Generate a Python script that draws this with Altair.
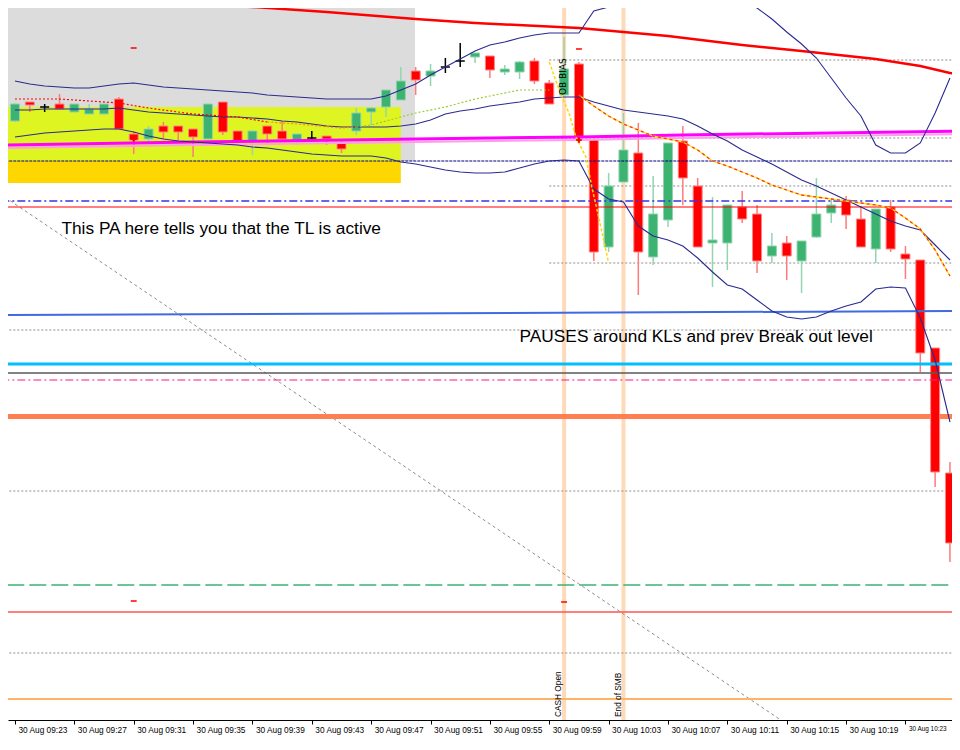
import altair as alt
import pandas as pd

# ---------------- data ----------------
# candle index: 0 = 30 Aug 09:23, one candle per minute
candle_idx = list(range(64))
opens = [12879, 12898, 12893, 12896, 12888, 12886, 12886, 12901, 12866, 12861,
         12874, 12874, 12871, 12861, 12898, 12869, 12859, 12874, 12869, 12860,
         12862, 12864, 12857, 12869, 12888, 12893, 12900, 12929, 12924, 12933,
         12939, 12943, 12944, 12928, 12928, 12939, 12917, 12905, 12936, 12860,
         12753, 12818, 12847, 12743, 12780, 12859, 12814, 12757, 12757, 12793,
         12786, 12744, 12757, 12739, 12763, 12787, 12800, 12781, 12751, 12793,
         12746, 12740, 12652, 12527]
highs = [12897, 12898, 12896, 12906, 12896, 12896, 12896, 12903, 12869, 12874,
         12878, 12874, 12871, 12896, 12898, 12869, 12869, 12874, 12879, 12866,
         12869, 12864, 12859, 12892, 12893, 12910, 12933, 12933, 12936, 12942,
         12957, 12947, 12944, 12935, 12939, 12942, 12920, 12963, 12938, 12860,
         12827, 12887, 12877, 12824, 12857, 12874, 12822, 12803, 12795, 12809,
         12795, 12767, 12764, 12759, 12822, 12802, 12804, 12794, 12791, 12800,
         12754, 12740, 12652, 12538]
lows = [12878, 12888, 12888, 12891, 12888, 12886, 12886, 12871, 12846, 12857,
        12861, 12859, 12843, 12861, 12865, 12859, 12845, 12855, 12861, 12855,
        12861, 12855, 12847, 12865, 12875, 12883, 12900, 12905, 12914, 12927,
        12933, 12937, 12922, 12925, 12921, 12916, 12896, 12905, 12863, 12739,
        12748, 12818, 12705, 12735, 12773, 12795, 12753, 12713, 12730, 12777,
        12727, 12737, 12720, 12707, 12762, 12777, 12771, 12753, 12737, 12748,
        12721, 12628, 12513, 12438]
closes = [12896, 12895, 12893, 12891, 12896, 12891, 12896, 12871, 12860, 12871,
          12868, 12868, 12863, 12896, 12868, 12859, 12869, 12866, 12861, 12866,
          12862, 12861, 12851, 12887, 12892, 12910, 12919, 12920, 12929, 12933,
          12939, 12947, 12930, 12931, 12938, 12919, 12896, 12931, 12863, 12748,
          12814, 12850, 12748, 12786, 12857, 12822, 12753, 12760, 12795, 12781,
          12739, 12754, 12744, 12759, 12786, 12795, 12785, 12753, 12791, 12751,
          12741, 12647, 12528, 12457]

# Bollinger bands, one value per candle
bb_upper = [12919, 12916, 12914, 12913, 12912, 12912, 12914, 12916, 12917, 12915,
            12913, 12912, 12911, 12910, 12909, 12908, 12907, 12905, 12904, 12903,
            12902, 12901, 12901, 12901, 12901, 12904, 12910, 12916, 12925, 12933,
            12941, 12949, 12955, 12958, 12962, 12965, 12967, 12967, 12967, 12989,
            12993, 12997, 13010, 13025, 13035, 13040, 13040, 13035, 13020, 13000,
            12992, 12981, 12968, 12956, 12942, 12922, 12902, 12884, 12855, 12847,
            12847, 12857, 12887, 12922]
bb_mid = [12890, 12890, 12891, 12891, 12891, 12891, 12891, 12892, 12890, 12888,
          12887, 12886, 12885, 12884, 12883, 12883, 12882, 12881, 12879, 12878,
          12876, 12874, 12873, 12873, 12873, 12873, 12874, 12876, 12880, 12886,
          12889, 12891, 12894, 12896, 12898, 12901, 12902, 12903, 12903, 12898,
          12894, 12890, 12888, 12886, 12884, 12881, 12874, 12866, 12859, 12850,
          12843, 12836, 12828, 12820, 12814, 12807, 12800, 12793, 12786, 12779,
          12774, 12770, 12755, 12740]
bb_lower = [12863, 12865, 12867, 12868, 12869, 12870, 12871, 12871, 12868, 12864,
            12861, 12859, 12858, 12857, 12856, 12855, 12853, 12852, 12850, 12848,
            12846, 12845, 12844, 12844, 12844, 12842, 12838, 12836, 12833, 12830,
            12828, 12827, 12827, 12828, 12832, 12836, 12839, 12840, 12839, 12811,
            12801, 12798, 12774, 12764, 12760, 12754, 12742, 12728, 12715, 12711,
            12700, 12689, 12683, 12681, 12683, 12689, 12694, 12698, 12711, 12713,
            12712, 12682, 12640, 12578]

# fast moving average (colour changes along the way)
fast_ma_idx = [0, 3, 7, 9, 12, 15, 17, 19, 22, 23, 24, 25, 27, 29, 31, 32, 34, 36]
fast_ma_val = [12901, 12901, 12897, 12892, 12886, 12883, 12878, 12876, 12872, 12873,
               12875, 12879, 12887, 12893, 12901, 12904, 12910, 12910]
# steep yellow dotted line after the open
steep_idx = [36, 36.67, 37.33, 37.8, 38.47, 38.87, 39.33, 40]
steep_val = [12938, 12910, 12887, 12863, 12843, 12813, 12783, 12737]
# red / yellow dashed average after the open
slow_idx = list(range(38, 64))
slow_val = [12905, 12894, 12884, 12876, 12870, 12864, 12861, 12858, 12850, 12839,
            12834, 12828, 12822, 12815, 12810, 12805, 12803, 12801, 12799, 12797,
            12795, 12792, 12782, 12771, 12750, 12724]
# long red moving average
red_ma_idx = [6, 11, 16, 21, 27, 31, 38, 44, 49, 53, 58, 61, 63, 64]
red_ma_val = [13002, 12997, 12993, 12988, 12981, 12977, 12972, 12964, 12955, 12949,
              12941, 12934, 12927, 12925]
# magenta level
magenta_idx = [-1, 12, 27, 38, 45, 64]
magenta_val = [12855, 12858, 12861, 12863, 12865, 12869]
# trend line (grey dashed diagonal)
trend_idx = [-1, 54]
trend_val = [12806, 12256]

# horizontal levels
lvl_navy = 12839
lvl_blue_dashdot = 12799
lvl_red_thin = 12793
lvl_royal = [12685, 12689]
lvl_sky = 12636
lvl_darkgray = 12627
lvl_pink_dashdot = 12620
lvl_coral = 12583.5
lvl_green_dash = 12415
lvl_red_low = 12388
lvl_orange = 12301
dotted_full = [12670, 12509, 12347]
dotted_after_open = [12940, 12862, 12814, 12737]

# zones: (start idx, end idx, top price, bottom price)
zone_gray = (-2, 26.95, 13010, 12839)
zone_yellow = (-2, 26.0, 12893, 12839)
zone_gold = (-2, 26.0, 12839, 12817)

# vertical session lines
session_idx = [37, 41]
session_labels = ["CASH Open", "End of SMB"]
session_label_idx = [36.77, 40.83]

# small markers
hl_marks_idx = [8, 38, 8, 37]
hl_marks_val = [12952, 12951, 12399, 12398]
signal_idx = [8, 38]
signal_val = [12861, 12860]

notes = ["This PA here tells you that the TL is active",
         "PAUSES around KLs and prev Break out level"]
notes_idx = [3.13, 34.0]
notes_val = [12766, 12658.5]

bias_label = "OB BIAS"
bias_idx = 37.13
bias_val = 12905

tick_values = list(range(0, 61, 4))

# ---------------- scales / axis ----------------
xs = alt.Scale(domain=[-2 / 15, 942 / 15], nice=False, zero=False)
ys = alt.Scale(domain=[12280, 12992], nice=False, zero=False)

x_axis = alt.Axis(
    values=tick_values,
    labelExpr="timeFormat(datetime(2023, 7, 30, 9, 23 + datum.value), '%d %b %H:%M')",
    labelAlign="left", labelOffset=3, labelPadding=1, tickSize=4,
    labelFont="Liberation Sans",
    labelFontSize={"condition": {"test": "datum.value >= 60", "value": 6.4}, "value": 8.3},
    labelColor="#000000",
    domainColor="#000000", tickColor="#000000", grid=False, title=None,
    labelOverlap=False, labelFlush=False,
)


def X(f="m"):
    return alt.X(f"{f}:Q", scale=xs, axis=x_axis)


def Y(f="p"):
    return alt.Y(f"{f}:Q", scale=ys, axis=None)


def line(idx, vals, color, width, dash=None, opacity=1.0):
    df = pd.DataFrame({"m": idx, "p": vals})
    kw = dict(color=color, strokeWidth=width, clip=True, opacity=opacity)
    if dash:
        kw["strokeDash"] = dash
    return alt.Chart(df).mark_line(**kw).encode(x=X(), y=Y(), order="m:Q")


def hline(price, color, width, dash=None, m0=-2, m1=65):
    return line([m0, m1], [price, price], color, width, dash)


def zone(z, color):
    df = pd.DataFrame({"m": [z[0]], "m1": [z[1]], "p": [z[2]], "p1": [z[3]]})
    return alt.Chart(df).mark_rect(color=color, clip=True).encode(
        x=X(), x2="m1:Q", y=Y(), y2="p1:Q")


# candles
cdf = pd.DataFrame({"m": candle_idx, "o": opens, "h": highs, "l": lows, "c": closes})


def col(r):
    if r.c > r.o:
        return "#3CB371"
    if r.c < r.o:
        return "#FF0000"
    return "#000000"


cdf["fillc"] = cdf.apply(col, axis=1)
cdf["edge"] = cdf["fillc"].map({"#3CB371": "#8FD4AE", "#FF0000": "#FF8585", "#000000": "#000000"})
cdf["wick"] = cdf["fillc"].map({"#3CB371": "#92D5B0", "#FF0000": "#FF7A7A", "#000000": "#000000"})

wicks = alt.Chart(cdf).mark_rule(strokeWidth=1.5, clip=True).encode(
    x=X(), y=Y("l"), y2="h:Q", color=alt.Color("wick:N", scale=None))
bodies = alt.Chart(cdf).mark_bar(size=9, strokeWidth=1, clip=True).encode(
    x=X(), y=Y("o"), y2="c:Q",
    fill=alt.Fill("fillc:N", scale=None), stroke=alt.Stroke("edge:N", scale=None))

# bands
bdf = pd.DataFrame({"m": candle_idx, "u": bb_upper, "mid": bb_mid, "lo": bb_lower})
band_layers = [
    alt.Chart(bdf).mark_line(color="#2A2A90", strokeWidth=1.1, clip=True).encode(x=X(), y=Y(f))
    for f in ["u", "mid", "lo"]
]

# fast MA split into colour segments
fa = pd.DataFrame({"m": fast_ma_idx, "p": fast_ma_val})
fa_red = fa[fa.m <= 17]
fa_orange = fa[(fa.m >= 17) & (fa.m <= 23)]
fa_green = fa[fa.m >= 23]

# session lines
sdf = pd.DataFrame({"m": session_idx})
session_lines = alt.Chart(sdf).mark_rule(color="#FFDAB9", strokeWidth=4).encode(x=X())
sldf = pd.DataFrame({"m": session_label_idx, "p": [12283, 12283], "t": session_labels})
session_text = alt.Chart(sldf).mark_text(
    angle=270, align="left", baseline="alphabetic", font="Liberation Sans",
    fontSize=8.3, color="#000000").encode(x=X(), y=Y(), text="t:N")

bias_text = alt.Chart(pd.DataFrame({"m": [bias_idx], "p": [bias_val], "t": [bias_label]})).mark_text(
    angle=270, align="left", baseline="alphabetic", font="DejaVu Sans",
    fontSize=9, color="#000000").encode(x=X(), y=Y(), text="t:N")

# markers
hdf = pd.DataFrame({"m": [v - 0.2 for v in hl_marks_idx], "m1": [v + 0.2 for v in hl_marks_idx],
                    "p": hl_marks_val})
hl_marks = alt.Chart(hdf).mark_rule(color="#FF0000", strokeWidth=1.5, clip=True).encode(
    x=X(), x2="m1:Q", y=Y())
sig = alt.Chart(pd.DataFrame({"m": signal_idx, "p": signal_val})).mark_point(
    shape="cross", filled=True, size=30, color="#FF0000", opacity=1).encode(x=X(), y=Y())

ndf = pd.DataFrame({"m": notes_idx, "p": notes_val, "t": notes})
notes_text = alt.Chart(ndf).mark_text(
    align="left", baseline="alphabetic", font="Liberation Sans", fontSize=17.3,
    color="#000000").encode(x=X(), y=Y(), text="t:N")

layers = [
    zone(zone_gray, "#DCDCDC"),
    zone(zone_yellow, "#DFF521"),
    zone(zone_gold, "#FFD700"),
    session_lines,
    line(trend_idx, trend_val, "#8C8C8C", 1, [3, 3]),
]
for p in dotted_full:
    layers.append(hline(p, "#8C8C8C", 1, [2, 2]))
for p in dotted_after_open:
    layers.append(hline(p, "#8C8C8C", 1, [2, 2], m0=36))
layers += [
    hline(lvl_coral, "#FF7F50", 5),
    hline(lvl_green_dash, "#3CB371", 1.5, [17, 5]),
    hline(lvl_red_low, "#FF5555", 1.5),
    hline(lvl_orange, "#FFB366", 2),
    wicks,
    bodies,
    hline(lvl_navy, "#000080", 1, [3, 1]),
    hline(lvl_blue_dashdot, "#3535E8", 1.3, [8, 3, 2, 3]),
    hline(lvl_red_thin, "#FF0000", 1.2),
    line([-2, 65], lvl_royal, "#4169E1", 2),
    hline(lvl_sky, "#00BFFF", 3),
    hline(lvl_darkgray, "#5A5A5A", 1.6),
    hline(lvl_pink_dashdot, "#FF1493", 1.2, [8, 3, 2, 3]),
    line(magenta_idx, [v - 3 for v in magenta_val], "#FF9CEB", 2),
    line(magenta_idx, magenta_val, "#FF00FF", 3),
    line(red_ma_idx, red_ma_val, "#FF0000", 2.5),
] + band_layers + [
    line(list(fa_red.m), list(fa_red.p), "#FF0000", 1.2, [2, 2]),
    line(list(fa_orange.m), list(fa_orange.p), "#FF8C00", 1.2, [2, 2]),
    line(list(fa_green.m), list(fa_green.p), "#9ACD32", 1.2, [2, 2]),
    line(steep_idx, steep_val, "#FFD700", 1.5, [3, 2]),
    line(slow_idx, slow_val, "#FFE000", 1.3),
    line(slow_idx, slow_val, "#FF3030", 1.3, [3, 3]),
    hl_marks,
    sig,
    session_text,
    bias_text,
    notes_text,
]

chart = alt.layer(*layers).properties(
    width=944, height=712,
    padding={"left": 0, "top": 0, "right": 0, "bottom": 15},
    autosize=alt.AutoSizeParams(type="none"),
    background="#FFFFFF",
).configure_view(strokeWidth=0)

chart.save("out.html", embed_options={"renderer": "svg", "actions": False})
